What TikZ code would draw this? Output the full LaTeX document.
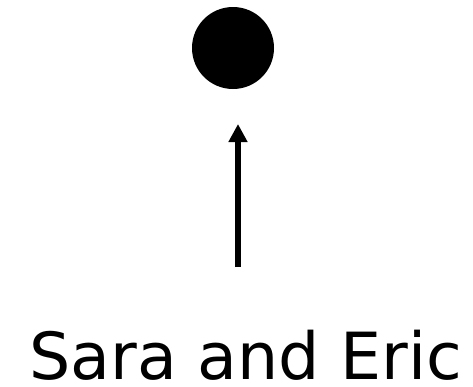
\documentclass[tikz,border=0pt]{standalone}
\usepackage{fontspec}
\setmainfont{DejaVu Sans}
\usetikzlibrary{arrows.meta}
\begin{document}
\begin{tikzpicture}[x=1pt,y=-1pt,
  dotstyle/.style={circle,fill=black,draw=none,minimum size=82pt,inner sep=0pt},
  labelstyle/.style={font=\fontsize{65pt}{70pt}\selectfont,inner sep=0pt,anchor=base},
  arrowstyle/.style={line width=6pt,-{Triangle[length=18pt,width=18pt]}}]
\useasboundingbox (0,0) rectangle (473,386);
\node[dotstyle] (dot) at (233,48) {};
\node[labelstyle] (label) at (246,379) {Sara and Eric};
\coordinate (tail) at (238,267);
\coordinate (head) at (238,124);
\draw[arrowstyle] (tail) -- (head);
\end{tikzpicture}
\end{document}
